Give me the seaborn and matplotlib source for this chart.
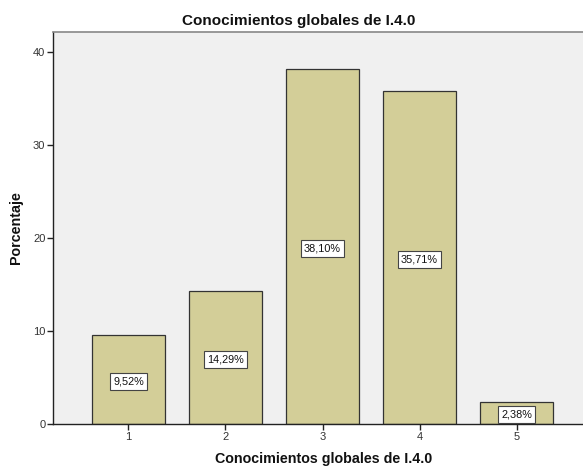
import matplotlib
matplotlib.use("Agg")
import matplotlib.pyplot as plt
import seaborn as sns
import pandas as pd

categories = ["1", "2", "3", "4", "5"]
percentages = [9.52, 14.29, 38.10, 35.71, 2.38]
y_ticks = [0, 10, 20, 30, 40]

title_text = "Conocimientos globales de I.4.0"
x_label = "Conocimientos globales de I.4.0"
y_label = "Porcentaje"

sns.set_theme(style="white")
plt.rcParams["font.family"] = ["Liberation Sans", "DejaVu Sans"]

df = pd.DataFrame({"cat": categories, "pct": percentages})

fig = plt.figure(figsize=(5.83, 4.69), dpi=100)
ax = fig.add_axes([53 / 583, 1 - 424 / 469, (592 - 53) / 583, (424 - 32) / 469])
ax.set_facecolor("#F0F0F0")

sns.barplot(data=df, x="cat", y="pct", ax=ax, color="#D3CE98",
            saturation=1, width=0.75, edgecolor="#333333", linewidth=0.9)

ax.set_xlim(-0.778, 4.778)
ax.set_ylim(0, 42.1)
ax.set_yticks(y_ticks)
ax.set_yticklabels([str(t) for t in y_ticks])

for i, v in enumerate(percentages):
    ax.text(i, v / 2 - 0.2, f"{v:.2f}%".replace(".", ","), ha="center", va="center",
            fontsize=7.8, color="#111111",
            bbox=dict(boxstyle="square,pad=0.32", facecolor="white",
                      edgecolor="#444444", linewidth=0.8))

for side in ["left", "bottom"]:
    ax.spines[side].set_color("#222222")
    ax.spines[side].set_linewidth(1.0)
ax.spines["top"].set_color("#888888")
ax.spines["top"].set_linewidth(1.2)
ax.spines["right"].set_visible(False)

ax.tick_params(axis="both", which="both", direction="out", length=4, width=1,
               color="#222222", labelsize=8, labelcolor="#333333", pad=1.5)
ax.tick_params(axis="y", left=True)
ax.tick_params(axis="x", bottom=True)

ax.set_xlabel("")
ax.set_ylabel("")
fig.text(324 / 583, 1 - 459 / 469, x_label, ha="center", va="center",
         fontsize=10.3, fontweight="bold", color="#111111")
fig.text(16 / 583, 1 - 228 / 469, y_label, ha="center", va="center",
         rotation=90, fontsize=10.3, fontweight="bold", color="#111111")
fig.text(299 / 583, 1 - 21 / 469, title_text, ha="center", va="center",
         fontsize=11, fontweight="bold", color="#111111")

fig.savefig("out.png", dpi=100)
